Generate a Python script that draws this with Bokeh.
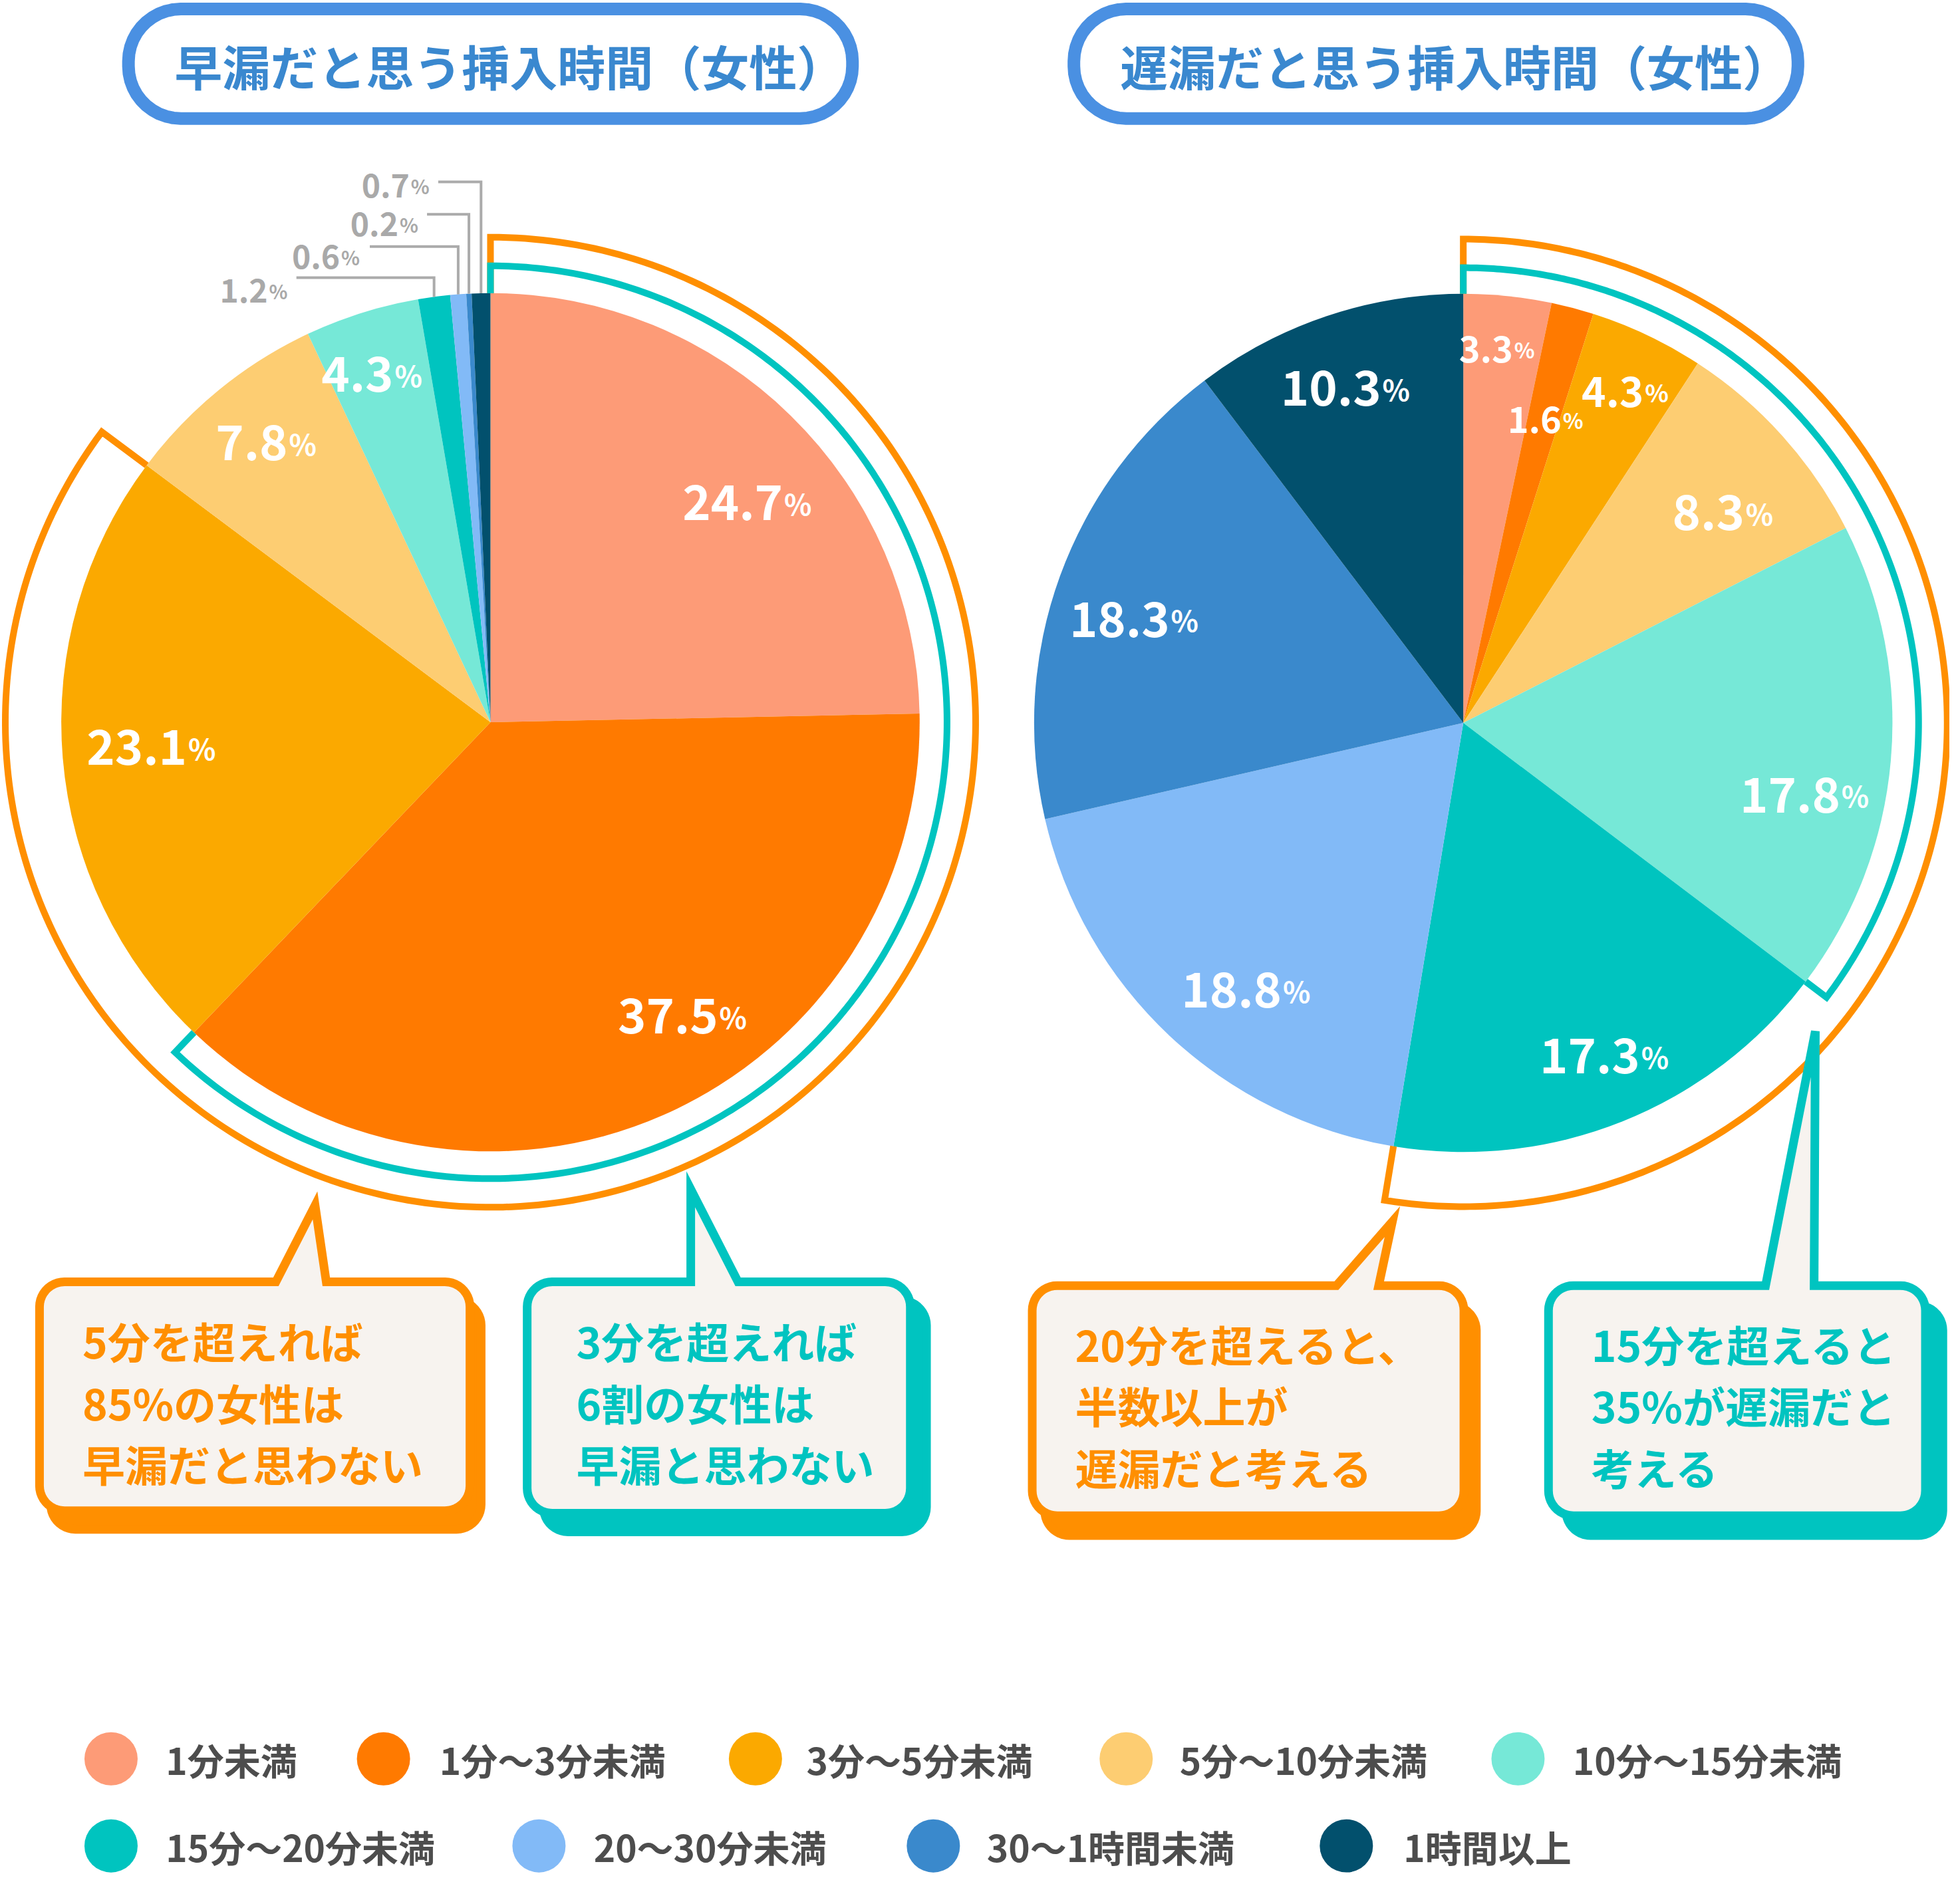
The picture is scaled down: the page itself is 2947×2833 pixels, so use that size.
import numpy as np
from bokeh.plotting import figure
from bokeh.models import Range1d, ColumnDataSource
from bokeh.core.properties import value
from bokeh.embed import file_html
from bokeh.resources import INLINE

# --- data -------------------------------------------------------------
categories = ["1分未満", "1分～3分未満", "3分～5分未満", "5分～10分未満", "10分～15分未満",
              "15分～20分未満", "20～30分未満", "30～1時間未満", "1時間以上"]
colors = ["#FD9B77", "#FF7A00", "#FBA900", "#FDCD72", "#76E8D7",
          "#00C4BF", "#82BAF7", "#3A89CC", "#02506D"]
early = [24.7, 37.5, 23.1, 7.8, 4.3, 1.2, 0.6, 0.2, 0.7]   # 早漏だと思う挿入時間
late = [3.3, 1.6, 4.3, 8.3, 17.8, 17.3, 18.8, 18.3, 10.3]  # 遅漏だと思う挿入時間
titles = ["早漏だと思う挿入時間（女性）", "遅漏だと思う挿入時間（女性）"]
notes = [["5分を超えれば", "85%の女性は", "早漏だと思わない"],
         ["3分を超えれば", "6割の女性は", "早漏と思わない"],
         ["20分を超えると、", "半数以上が", "遅漏だと考える"],
         ["15分を超えると", "35%が遅漏だと", "考える"]]

# --- layout (reference pixels / 1.88) --------------------------------
ORANGE = "#FF8F00"
TEAL = "#00C4C0"
BLUE = "#4A90E2"
FONT = value("Noto Sans CJK JP")
S = 2947 / 1567
R = 345

early_pos = [(629, 390), (577, 803), (150, 587), (231, 342), (316, 287),
             (215, 224), (273, 197), (320, 171), (329, 140)]
early_size = [72, 72, 72, 72, 72, 48, 48, 48, 48]
late_pos = [(1216, 270), (1255, 327), (1321, 303), (1402, 398), (1479, 625),
            (1318, 835), (1030, 782), (940, 484), (1110, 298)]
late_size = [54, 54, 62, 72, 72, 72, 72, 72, 72]
leader_x0 = [238, 297, 343, 352]
leader_y = [223, 198, 172, 146]


def X(d):
    return np.asarray(d, dtype=float) * S


def Y(d):
    return 2833 - np.asarray(d, dtype=float) * S


p = figure(width=2931, height=2817, x_range=Range1d(0, 2947), y_range=Range1d(0, 2833),
           x_axis_type=None, y_axis_type=None, output_backend="svg",
           toolbar_location=None, min_border=0)
p.grid.visible = False
p.outline_line_color = None
p.background_fill_color = "white"
p.border_fill_color = "white"


def rrect(x0, y0, x1, y1, r, notch=None):
    pts = []

    def arc(cx, cy, a0, a1):
        for a in np.linspace(a0, a1, 12):
            pts.append((cx + r * np.cos(a), cy + r * np.sin(a)))

    arc(x0 + r, y0 + r, np.pi, 1.5 * np.pi)
    if notch:
        pts.extend([(notch[0], y0), (notch[2], notch[3]), (notch[1], y0)])
    arc(x1 - r, y0 + r, 1.5 * np.pi, 2 * np.pi)
    arc(x1 - r, y1 - r, 0, 0.5 * np.pi)
    arc(x0 + r, y1 - r, 0.5 * np.pi, np.pi)
    xs, ys = zip(*pts)
    return list(X(xs)), list(Y(ys))


def pie(cx, cy, shares):
    frac = np.array(shares) / sum(shares)
    cum = np.concatenate([[0], np.cumsum(frac)])
    n = len(shares)
    src = ColumnDataSource(dict(x=[X(cx)] * n, y=[Y(cy)] * n,
                                start=np.pi / 2 - 2 * np.pi * cum[1:],
                                end=np.pi / 2 - 2 * np.pi * cum[:-1], color=colors))
    p.wedge(x="x", y="y", radius=R * S, start_angle="start", end_angle="end",
            fill_color="color", line_color=None, source=src)
    return cum


def bracket(cx, cy, upto, r_out, color):
    t = np.linspace(0, upto, 300) * 2 * np.pi
    xs = [cx] + list(cx + r_out * np.sin(t)) + [cx + R * np.sin(t[-1])]
    ys = [cy - R] + list(cy - r_out * np.cos(t)) + [cy - R * np.cos(t[-1])]
    p.line(X(xs), Y(ys), line_color=color, line_width=10, line_join="miter")


def labels(shares, pos, sizes, color_for):
    for i, v in enumerate(shares):
        ax, ay = pos[i]
        fs = sizes[i]
        base = ay + 0.36 * fs / S
        col = color_for(i)
        p.text(x=[X(ax)], y=[Y(base)], text=[f"{v}"], text_align="right",
               text_baseline="alphabetic", text_color=col, text_font=FONT,
               text_font_style="bold", text_font_size=f"{fs}px")
        p.text(x=[X(ax + 1)], y=[Y(base)], text=["%"], text_align="left",
               text_baseline="alphabetic", text_color=col, text_font=FONT,
               text_font_style="bold", text_font_size=f"{round(fs * 0.6)}px")


# --- titles -----------------------------------------------------------
for i, (bx0, bx1, tx) in enumerate([(103, 685, 140), (863, 1445, 900)]):
    xs, ys = rrect(bx0, 7, bx1, 95, 42)
    p.patch(xs, ys, fill_color="white", line_color=BLUE, line_width=19)
    p.text(x=[X(tx)], y=[Y(52)], text=[titles[i]], text_align="left", text_baseline="middle",
           text_color="#3A88CF", text_font=FONT, text_font_style="bold", text_font_size="72px")

# --- left pie ---------------------------------------------------------
lcx, lcy = 394, 580.5
cum_l = pie(lcx, lcy, early)
bracket(lcx, lcy, cum_l[3], 390, ORANGE)
bracket(lcx, lcy, cum_l[2], 367, TEAL)
for k, i in enumerate(range(5, 9)):
    mid = (cum_l[i] + cum_l[i + 1]) * np.pi
    lx = lcx + R * np.sin(mid)
    ey = lcy - R * np.cos(mid)
    p.line(X([leader_x0[k], lx, lx]), Y([leader_y[k], leader_y[k], ey]),
           line_color="#ABABAB", line_width=4, line_join="miter")
labels(early, early_pos, early_size, lambda i: "white" if i < 5 else "#A9A9A9")

# --- right pie --------------------------------------------------------
rcx, rcy = 1176, 581
cum_r = pie(rcx, rcy, late)
bracket(rcx, rcy, cum_r[6], 389, ORANGE)
bracket(rcx, rcy, cum_r[5], 366, TEAL)
labels(late, late_pos, late_size, lambda i: "white")

# --- callouts ---------------------------------------------------------
boxes = [
    dict(b=(31.5, 1030.5, 377.5, 1214.5), notch=(221.5, 262, 253, 969), sh=(9, 15),
         c=ORANGE, tx=66, ty=(1077, 1127, 1176)),
    dict(b=(423.5, 1030.5, 731.5, 1216.5), notch=(555, 593, 555, 956), sh=(13, 15),
         c=TEAL, tx=463, ty=(1077, 1127, 1176)),
    dict(b=(829.5, 1033.5, 1176.5, 1218.5), notch=(1074, 1108, 1119, 982), sh=(10, 16),
         c=ORANGE, tx=864, ty=(1080, 1129, 1179)),
    dict(b=(1244.5, 1033.5, 1547.5, 1218.5), notch=(1419, 1458, 1459, 829), sh=(14, 16),
         c=TEAL, tx=1279, ty=(1080, 1129, 1179)),
]
for k, bx in enumerate(boxes):
    x0, y0, x1, y1 = bx["b"]
    dx, dy = bx["sh"]
    xs, ys = rrect(x0 + dx, y0 + dy, x1 + dx, y1 + dy, 20)
    p.patch(xs, ys, fill_color=bx["c"], line_color=bx["c"], line_width=13)
    xs, ys = rrect(x0, y0, x1, y1, 20, bx["notch"])
    p.patch(xs, ys, fill_color="#F7F3EF", line_color=bx["c"], line_width=13, line_join="miter")
    for j, line in enumerate(notes[k]):
        p.text(x=[X(bx["tx"])], y=[Y(bx["ty"][j])], text=[line], text_align="left",
               text_baseline="middle", text_color=bx["c"], text_font=FONT,
               text_font_style="bold", text_font_size="64px")

# --- legend -----------------------------------------------------------
leg_dot = [(89, 1414), (308, 1414), (607, 1414), (905, 1414), (1220, 1414),
           (89, 1484), (433, 1484), (750, 1484), (1082, 1484)]
leg_txt = [133, 353, 648, 948, 1264, 133, 477, 793, 1128]
for i, cat in enumerate(categories):
    dx, dy = leg_dot[i]
    p.scatter(x=[X(dx)], y=[Y(dy)], marker="circle", size=80, fill_color=colors[i], line_color=None)
    p.text(x=[X(leg_txt[i])], y=[Y(dy)], text=[cat], text_align="left", text_baseline="middle",
           text_color="#4D4D4D", text_font=FONT, text_font_style="bold", text_font_size="55px")

open("out.html", "w").write(file_html(p, INLINE))
